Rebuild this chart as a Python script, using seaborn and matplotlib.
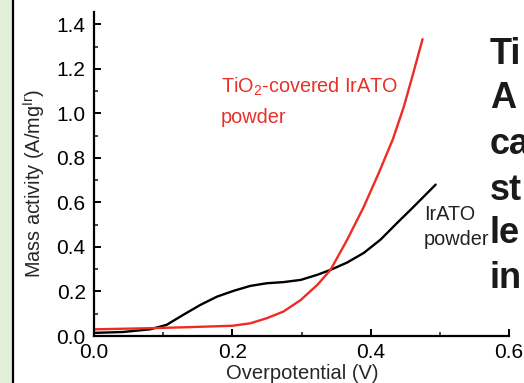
import matplotlib
matplotlib.use("Agg")
import matplotlib.pyplot as plt
import seaborn as sns
import pandas as pd
from matplotlib.patches import Rectangle
from matplotlib.lines import Line2D

# Data
irato_x = [0.0, 0.042, 0.081, 0.105, 0.129, 0.154, 0.178, 0.202, 0.226, 0.25, 0.274,
           0.299, 0.323, 0.342, 0.366, 0.39, 0.414, 0.439, 0.462, 0.494]
irato_y = [0.014, 0.018, 0.030, 0.05, 0.095, 0.14, 0.177, 0.203, 0.225, 0.237, 0.242,
           0.252, 0.275, 0.297, 0.33, 0.373, 0.432, 0.51, 0.58, 0.68]

tio2_x = [0.0, 0.081, 0.129, 0.2, 0.226, 0.25, 0.274, 0.299, 0.323, 0.342, 0.366,
          0.39, 0.412, 0.432, 0.448, 0.462, 0.475]
tio2_y = [0.03, 0.035, 0.039, 0.046, 0.057, 0.08, 0.11, 0.162, 0.23, 0.297, 0.432,
          0.58, 0.734, 0.883, 1.03, 1.185, 1.333]

x_ticks = [0.0, 0.2, 0.4, 0.6]
y_ticks = [0.0, 0.2, 0.4, 0.6, 0.8, 1.0, 1.2, 1.4]
side_words = ["Ti", "A", "ca", "st", "le", "in"]

sns.set_theme(style="ticks")
plt.rcParams['font.family'] = ['Liberation Sans', 'DejaVu Sans']
plt.rcParams['mathtext.default'] = 'regular'

W, H = 524, 383
fig = plt.figure(figsize=(W / 100, H / 100), dpi=100)
fig.patch.set_facecolor("white")

# left green strip and black border line
fig.patches.append(Rectangle((0, 0), 12 / W, 1, transform=fig.transFigure,
                             facecolor="#e2efd9", edgecolor="none", zorder=0))
fig.lines.append(Line2D([13 / W, 13 / W], [0, 1], transform=fig.transFigure,
                        color="black", lw=1.6))

ax = fig.add_axes([94 / W, (H - 336) / H, (509 - 94) / W, (336 - 12) / H])

df_irato = pd.DataFrame({"x": irato_x, "y": irato_y})
df_tio2 = pd.DataFrame({"x": tio2_x, "y": tio2_y})
sns.lineplot(data=df_irato, x="x", y="y", ax=ax, color="black", lw=1.7, sort=False)
sns.lineplot(data=df_tio2, x="x", y="y", ax=ax, color="#ee2b24", lw=1.7, sort=False)

ax.set_xlim(0, 0.6)
ax.set_ylim(0, 1.455)
ax.set_xticks(x_ticks)
ax.set_xticklabels([f"{v:.1f}" for v in x_ticks])
ax.set_yticks(y_ticks)
ax.set_yticklabels([f"{v:.1f}" for v in y_ticks])
ax.set_xticks([0.1, 0.3, 0.5], minor=True)
ax.set_yticks([0.1, 0.3, 0.5, 0.7, 0.9, 1.1, 1.3], minor=True)
ax.tick_params(which="major", direction="in", length=5, width=1.4, labelsize=15, colors="black")
ax.tick_params(axis="x", which="major", pad=5)
ax.tick_params(axis="y", which="major", pad=6)
ax.tick_params(which="minor", direction="in", length=3, width=1.2)
for s in ["top", "right"]:
    ax.spines[s].set_visible(False)
for s in ["left", "bottom"]:
    ax.spines[s].set_linewidth(1.6)
    ax.spines[s].set_color("black")

ax.set_xlabel("Overpotential (V)", fontsize=14.5, va="center")
ax.xaxis.set_label_coords(0.501, -0.115)
ax.set_ylabel("Mass activity (A/mg$^{Ir}$)", fontsize=14.3, va="center")
ax.yaxis.set_label_coords(-0.145, 0.47)

red_txt = "#e8302a"
ax.text(0.183, 1.117, "TiO$_2$-covered IrATO", color=red_txt, fontsize=14.3, va="center", ha="left")
ax.text(0.183, 0.982, "powder", color=red_txt, fontsize=14.3, va="center", ha="left")
ax.text(0.477, 0.545, "IrATO", color="#222222", fontsize=14.3, va="center", ha="left")
ax.text(0.477, 0.432, "powder", color="#222222", fontsize=14.3, va="center", ha="left")

ys = [55, 99, 145, 190, 233, 278]
for w, yp in zip(side_words, ys):
    fig.text(490 / W, 1 - yp / H, w, fontsize=26, fontweight="bold", color="#1a1a1a",
             va="center", ha="left")

fig.savefig("out.png", dpi=100)
